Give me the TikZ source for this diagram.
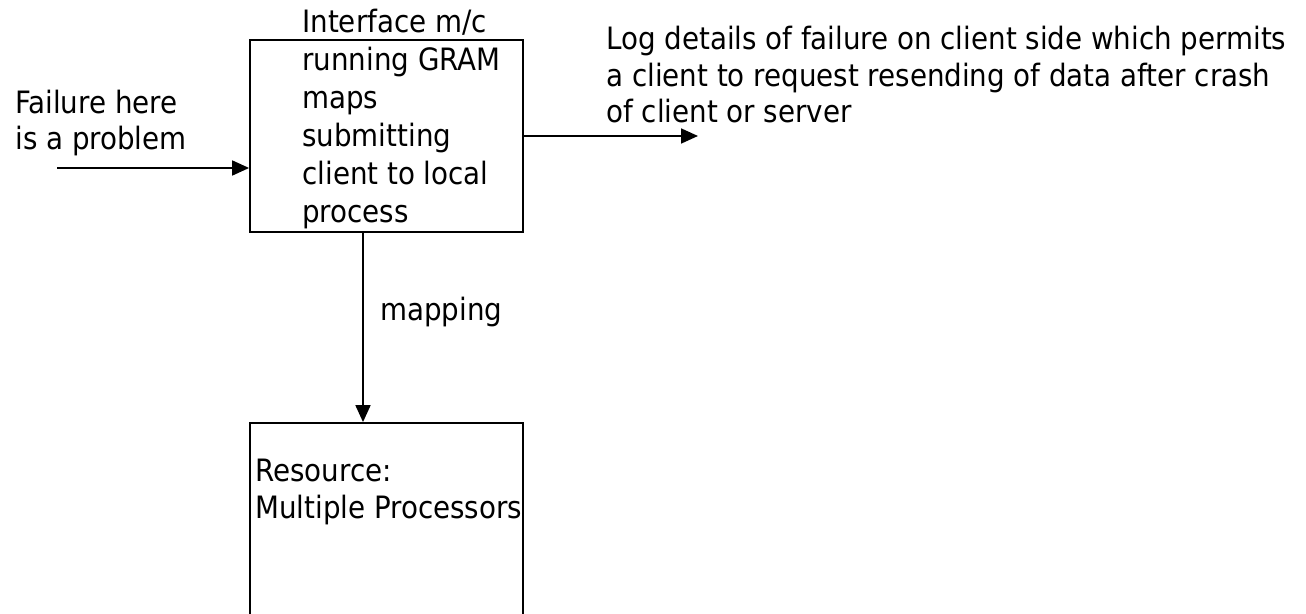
\documentclass[tikz,border=0pt]{standalone}
\usepackage{fontspec}
\setmainfont{DejaVu Sans Condensed}
\usetikzlibrary{arrows.meta, positioning}

\begin{document}
\begin{tikzpicture}[x=0.5pt, y=-0.5pt,
  box/.style={rectangle, draw, line width=0.9pt, minimum width=136.5pt, inner sep=0pt},
  txt/.style={align=left, inner sep=0pt, font=\fontsize{15.4pt}{18.4pt}\selectfont},
  arrow/.style={-{Triangle[length=8.5pt, width=7.5pt]}, line width=0.9pt}
]
  \useasboundingbox (0,0) rectangle (1306,614);
  % Boxes
  \node[box, minimum height=96pt] (iface) at (386.5,136) {};
  \node[box, minimum height=113.5pt] (res) at (386.5,536.5) {};
  % Texts (anchored at the baseline of the last line)
  \node[txt, font=\fontsize{15.4pt}{19pt}\selectfont, anchor=base west] (ifacetext) at (302,223) {Interface m/c\\running GRAM\\maps\\submitting\\client to local\\process};
  \node[txt, anchor=base west] (failtext) at (15,150) {Failure here\\is a problem};
  \node[txt, anchor=base west] (logtext) at (606,123) {Log details of failure on client side which permits\\a client to request resending of data after crash\\of client or server};
  \node[txt, anchor=base west] (maptext) at (380,321) {mapping};
  \node[txt, anchor=base west] (restext) at (255,518) {Resource:\\Multiple Processors};
  % Arrows
  \coordinate (failin) at (57,168);
  \coordinate (logend) at (698,136);
  \coordinate (mapx) at (363,0);
  \draw[arrow] (failin) -- (iface.west |- failin);
  \draw[arrow] (iface.east) -- (logend);
  \draw[arrow] (iface.south -| mapx) -- (res.north -| mapx);
\end{tikzpicture}
\end{document}
